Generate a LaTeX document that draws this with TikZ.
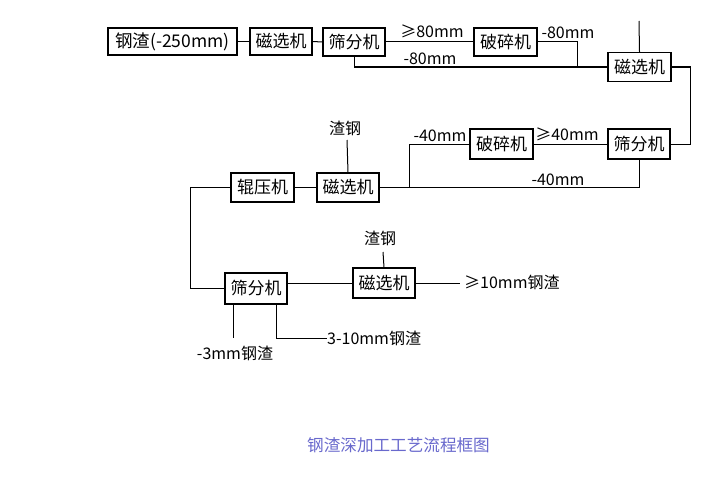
\documentclass[tikz,border=0pt]{standalone}
\usepackage{fontspec}
\setmainfont{Noto Sans CJK SC}
\definecolor{capcol}{RGB}{105,105,205}
\begin{document}
\begin{tikzpicture}[x=1pt,y=-1pt,
  box/.style={draw,line width=1.2pt,inner sep=0pt,minimum height=28pt,minimum width=62pt,font=\fontsize{17}{17}\selectfont},
  lbl/.style={inner sep=0pt,font=\fontsize{16}{16}\selectfont},
  wire/.style={line width=1pt}]
\useasboundingbox (0,0) rectangle (725,495);
\fill[white] (0,0) rectangle (725,495);
% boxes
\node[box,minimum width=129pt,minimum height=27pt,font=\fontsize{17.5}{17.5}\selectfont] (b1) at (172.5,41.5) {钢渣(-250mm)};
\node[box,minimum height=27pt] (b2) at (281,41.5) {磁选机};
\node[box] (b3) at (354,42) {筛分机};
\node[box,minimum width=63pt] (b4) at (505.5,42) {破碎机};
\node[box,minimum width=63pt,minimum height=29pt] (b5) at (639.5,67) {磁选机};
\node[box,minimum height=30pt] (b6) at (639,144) {筛分机};
\node[box,minimum width=63pt,minimum height=30pt] (b7) at (501.5,144) {破碎机};
\node[box,minimum height=29pt] (b8) at (348,187.5) {磁选机};
\node[box,minimum width=63pt,minimum height=29pt] (b9) at (262.5,187.5) {辊压机};
\node[box,minimum height=31pt] (b10) at (256,288.5) {筛分机};
\node[box,minimum height=30pt] (b11) at (384,283) {磁选机};
% coordinates
\coordinate (c1) at (577,67);
\coordinate (top) at (639,21);
\coordinate (c2) at (690,144);
\coordinate (c3) at (409,187.5);
\coordinate (c4) at (347,140);
\coordinate (c5) at (190,288.5);
\coordinate (c6) at (460,283);
\coordinate (c7) at (383,252);
\coordinate (c8) at (233,338);
\coordinate (c9) at (276,338);
\coordinate (c10) at (327,338);
% wires
\draw[wire] (b1.east) -- (b2.west);
\draw[wire] (b2.east) -- (b3.west);
\draw[wire] (b3.east) -- (b4.west);
\draw[wire] (b3.south) |- (b5.west);
\draw[wire] (b4.east) -| (c1);
\draw[wire] (b5.north) -- (top);
\draw[wire] (b5.east) -| (c2) -- (b6.east);
\draw[wire] (b6.west) -- (b7.east);
\draw[wire] (b7.west) -| (c3);
\draw[wire] (b8.east) -| (b6.south);
\draw[wire] (b8.north) -- (c4);
\draw[wire] (b9.east) -- (b8.west);
\draw[wire] (b9.west) -| (c5) -- (b10.west);
\draw[wire] (b11.west) -- (b11.west -| b10.east);
\draw[wire] (b11.east) -- (c6);
\draw[wire] (b11.north) -- (c7);
\draw[wire] (c8 |- b10.south) -- (c8);
\draw[wire] (c9 |- b10.south) -- (c9) -- (c10);
% labels
\node[lbl] (l1) at (432,31) {≥80mm};
\node[lbl] (l2) at (430,59) {-80mm};
\node[lbl] (l3) at (568,33) {-80mm};
\node[lbl] (l4) at (567,134) {≥40mm};
\node[lbl] (l5) at (440,136) {-40mm};
\node[lbl] (l6) at (558,180) {-40mm};
\node[lbl] (l7) at (345,128) {渣钢};
\node[lbl] (l8) at (380,238) {渣钢};
\node[lbl,anchor=west] (l9) at (464,282) {≥10mm钢渣};
\node[lbl] (l10) at (235,353) {-3mm钢渣};
\node[lbl,anchor=west] (l11) at (327,338) {3-10mm钢渣};
\node[inner sep=0pt,text=capcol,font=\fontsize{16.6}{16.6}\selectfont] (cap) at (398.5,445) {钢渣深加工工艺流程框图};
\end{tikzpicture}
\end{document}
